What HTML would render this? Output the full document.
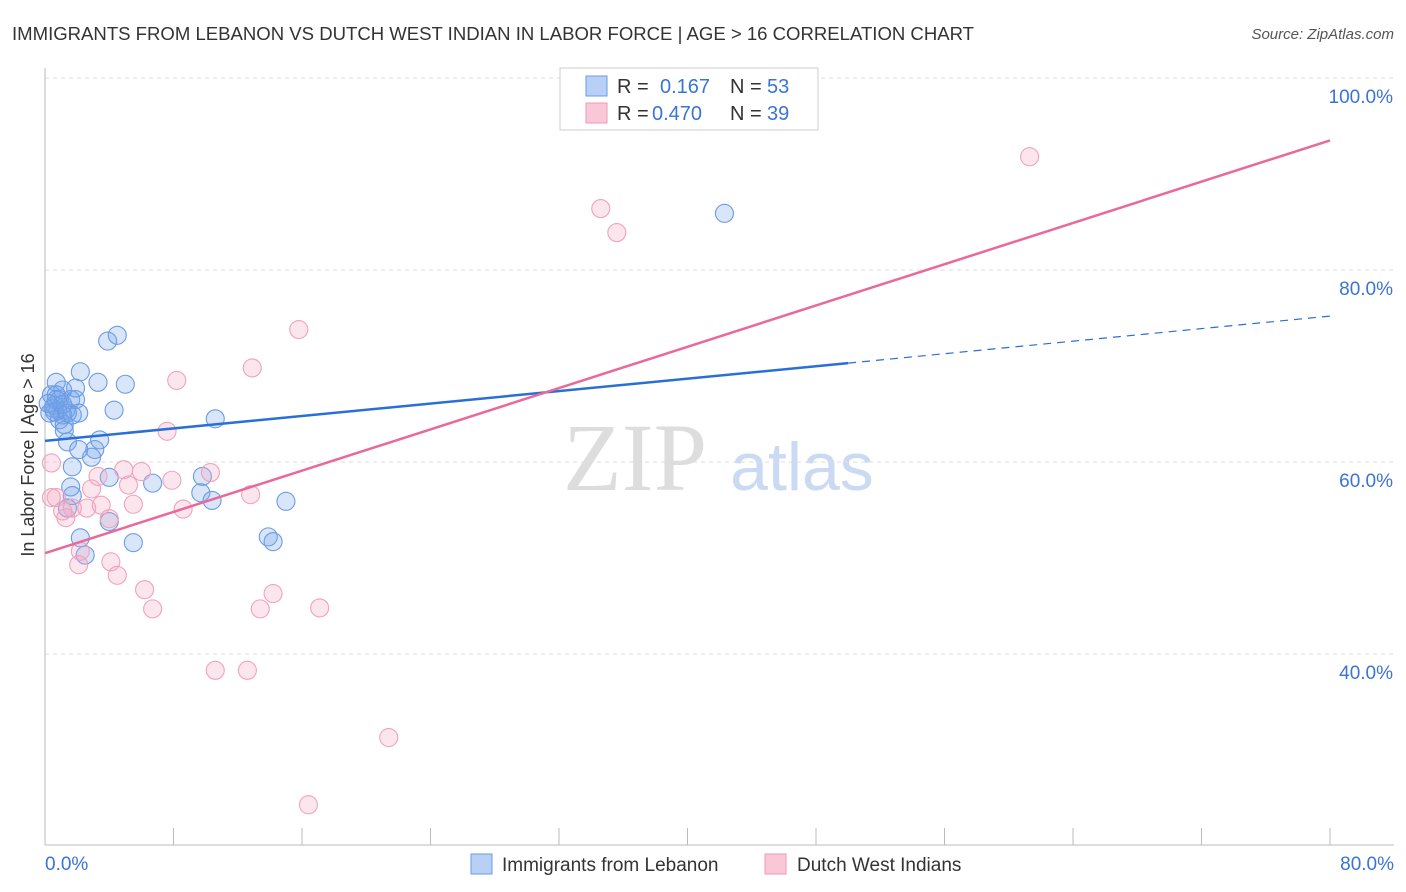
<!DOCTYPE html>
<html><head><meta charset="utf-8"><style>
body{margin:0;background:#fff;font-family:"Liberation Sans",sans-serif}
svg{display:block}
</style></head><body>
<svg id="chart" width="1406" height="892">
<text x="12" y="40" font-size="18" fill="#333" textLength="962" lengthAdjust="spacingAndGlyphs">IMMIGRANTS FROM LEBANON VS DUTCH WEST INDIAN IN LABOR FORCE | AGE &gt; 16 CORRELATION CHART</text>
<text x="1394" y="39" font-size="15" fill="#555" font-style="italic" text-anchor="end">Source: ZipAtlas.com</text>
<g>
<text x="635" y="490" font-size="96" font-family="Liberation Serif,serif" fill="#ddd" text-anchor="middle">ZIP</text>
<text x="802" y="490" font-size="68" fill="#c9daf2" text-anchor="middle">atlas</text>
</g>
<g id="grid"></g>
<g id="axes"></g>
<g id="marks"></g>
<text transform="translate(34,455) rotate(-90)" font-size="18" fill="#333" text-anchor="middle">In Labor Force | Age &gt; 16</text>
<g>
<rect x="560" y="68" width="258" height="62" fill="#fff" stroke="#ccc"/>
<rect x="586" y="76" width="21" height="20" fill="#b8d0f5" stroke="#6a9be5"/>
<rect x="586" y="103" width="21" height="20" fill="#f9c7d6" stroke="#ee9ab5"/>
<text x="617" y="93" font-size="20" fill="#333">R =</text>
<text x="660" y="93" font-size="20" fill="#3a74d8">0.167</text>
<text x="730" y="93" font-size="20" fill="#333">N =</text>
<text x="767" y="93" font-size="20" fill="#3a74d8">53</text>
<text x="617" y="120" font-size="20" fill="#333">R =</text>
<text x="652" y="120" font-size="20" fill="#3a74d8">0.470</text>
<text x="730" y="120" font-size="20" fill="#333">N =</text>
<text x="767" y="120" font-size="20" fill="#3a74d8">39</text>
</g>
<g>
<rect x="471" y="854" width="21" height="20" fill="#b8d0f5" stroke="#6a9be5"/>
<text x="502" y="871" font-size="19" fill="#333">Immigrants from Lebanon</text>
<rect x="765" y="854" width="21" height="20" fill="#f9c7d6" stroke="#ee9ab5"/>
<text x="797" y="871" font-size="19" fill="#333">Dutch West Indians</text>
</g>
</svg>
<script>
const xTicks=[0,8,16,24,32,40,48,56,64,72,80];
const yTicks=[40,60,80,100];
const blueX=[0.4,0.6,0.8,0.9,1.1,0.7,0.9,1.2,1.3,1.6,1.9,2.1,2.2,1.9,1.4,1.7,1.6,1.7,1.4,2.5,2.2,3.1,2.9,2.1,3.4,3.3,5.0,4.3,3.9,4.5,4.0,4.0,5.5,6.7,9.7,10.4,9.8,10.6,13.9,14.2,15.0,42.3,0.6,0.5,1.1,1.2,0.3,0.7,1.4,1.7,0.7,1.1,0.2];
const blueY=[67.0,65.9,65.4,66.5,67.5,68.3,64.4,63.3,65.4,66.5,66.5,65.1,69.4,67.7,62.1,59.5,57.4,56.5,55.2,50.3,52.1,61.3,60.5,61.3,62.3,68.3,68.1,65.4,72.6,73.2,53.8,58.4,51.6,57.8,56.8,56.0,58.5,64.5,52.2,51.7,55.9,85.9,65.2,65.6,64.9,63.9,65.1,67.0,65.1,64.9,66.5,66.0,66.1];
const pinkX=[61.3,34.6,35.6,15.8,12.9,8.2,7.6,4.9,6.0,10.3,7.9,2.9,0.7,3.5,5.5,12.8,8.6,2.6,1.1,1.7,1.3,4.0,0.4,4.1,2.2,2.1,4.5,6.2,6.7,13.4,14.2,17.1,10.6,12.6,21.4,16.4,0.4,3.3,5.2];
const pinkY=[91.8,86.4,83.9,73.8,69.8,68.5,63.2,59.2,59.0,58.9,58.1,57.2,56.3,55.5,55.6,56.6,55.1,55.2,54.9,55.2,54.2,54.1,59.9,49.6,50.7,49.3,48.2,46.7,44.7,44.7,46.3,44.8,38.3,38.3,31.3,24.3,56.3,58.5,57.6];
const blueTrend=[62.2,70.3,75.2]; // y at x=0, x=50 (solid end), x=80 (dashed end)
const pinkTrend=[50.5,93.5]; // y at x=0, x=80
const NS='http://www.w3.org/2000/svg';
const sx=v=>45+v*16.0625;
const sy=v=>78+(100-v)*9.6;
function mk(tag,attrs,parent){const e=document.createElementNS(NS,tag);for(const k in attrs)e.setAttribute(k,attrs[k]);parent.appendChild(e);return e;}
const grid=document.getElementById('grid'),axes=document.getElementById('axes'),marks=document.getElementById('marks');
yTicks.forEach(t=>{
 const l=mk('line',{x1:45,x2:1394,y1:sy(t),y2:sy(t),stroke:'#ddd','stroke-dasharray':'4,4'},grid);
 
 
 const tx=mk('text',{x:1393,y:sy(t)+25,'font-size':19,fill:'#3a74d8','text-anchor':'end'},axes);
 tx.textContent=t.toFixed(1)+'%';
 
 
});
const ax=mk('line',{x1:45,x2:45,y1:68,y2:845,stroke:'#bbb'},axes);


const bx=mk('line',{x1:45,x2:1394,y1:845,y2:845,stroke:'#bbb'},axes);


xTicks.forEach(t=>{
 const l=mk('line',{x1:sx(t),x2:sx(t),y1:828,y2:845,stroke:'#bbb'},axes);
 
 
});
[[0,'0.0%','start',45],[80,'80.0%','end',1394]].forEach(([t,s,a,x])=>{
 const tx=mk('text',{x:x,y:870,'font-size':19,fill:'#3a74d8','text-anchor':a},axes);
 tx.textContent=s;
 
 
});
blueX.forEach((x,i)=>{
 const c=mk('circle',{cx:sx(x),cy:sy(blueY[i]),r:9,fill:'rgba(120,165,235,0.28)',stroke:'#6a9be5','stroke-width':1.1},marks);
 
 
});
pinkX.forEach((x,i)=>{
 const c=mk('circle',{cx:sx(x),cy:sy(pinkY[i]),r:9,fill:'rgba(245,165,195,0.28)',stroke:'#f0a2bc','stroke-width':1.1},marks);
 
 
});
const b1=mk('line',{x1:sx(0),y1:sy(blueTrend[0]),x2:sx(50),y2:sy(blueTrend[1]),stroke:'#2a6fd6','stroke-width':2.5},marks);


const b2=mk('line',{x1:sx(50),y1:sy(blueTrend[1]),x2:sx(80),y2:sy(blueTrend[2]),stroke:'#2a6fd6','stroke-width':1.2,'stroke-dasharray':'8,6'},marks);


const p1=mk('line',{x1:sx(0),y1:sy(pinkTrend[0]),x2:sx(80),y2:sy(pinkTrend[1]),stroke:'#e8699a','stroke-width':2.5},marks);


</script>
</body></html>
